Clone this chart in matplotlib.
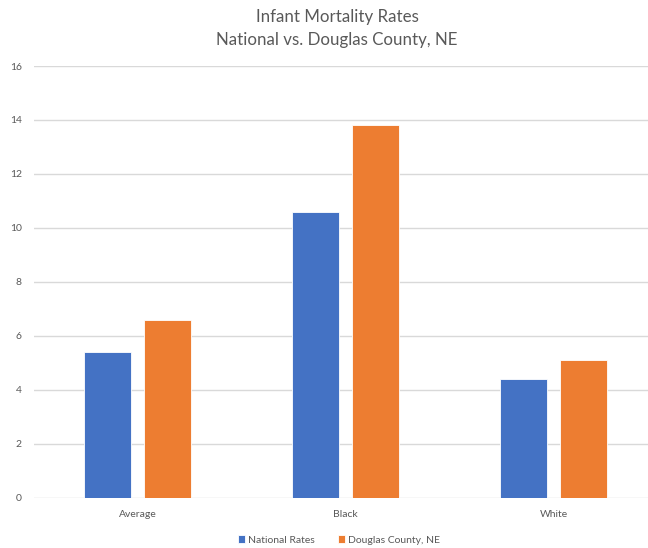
import numpy as np
import matplotlib.pyplot as plt

plt.rcParams['font.family'] = ['Lato', 'DejaVu Sans']

categories = ['Average', 'Black', 'White']
national = [5.4, 10.6, 4.4]
douglas = [6.6, 13.8, 5.1]

fig = plt.figure(figsize=(6.48, 5.48), dpi=100)
# plot area runs a little past the right edge of the picture
ax = fig.add_axes([33.5/648, 1-497.5/548, 624/648, 431.5/548])

x = np.arange(len(categories))
w = 0.226
off = w/2 + 0.031
ax.bar(x - off, national, w, color='#4472C4', edgecolor='white', linewidth=0.6, label='National Rates', zorder=3)
ax.bar(x + off, douglas, w, color='#ED7D31', edgecolor='white', linewidth=0.6, label='Douglas County, NE', zorder=3)

ax.set_xlim(-0.5, 2.5)
ax.set_ylim(0, 16)
ax.set_yticks(np.arange(0, 17, 2))
ax.set_xticks(x)
ax.set_xticklabels(categories)
ax.grid(axis='y', color='#d9d9d9', linewidth=1, zorder=0)
for s in ax.spines.values():
    s.set_visible(False)
ax.tick_params(length=0, colors='#595959', labelsize=7.5)
ax.tick_params(axis='x', pad=9)
ax.tick_params(axis='y', pad=8.3)

fig.text(337/648, 1-17/548, 'Infant Mortality Rates', ha='center', va='center', fontsize=12.2, color='#595959')
fig.text(337/648, 1-40/548, 'National vs. Douglas County, NE', ha='center', va='center', fontsize=12.2, color='#595959')

ax.legend(loc='center', bbox_to_anchor=(339/648, 1-540/548), bbox_transform=fig.transFigure,
          ncol=2, frameon=False, fontsize=7.5, labelcolor='#595959',
          handlelength=0.7, handleheight=0.7, handletextpad=0.3, columnspacing=2.2)

plt.savefig('out.png', dpi=100)
